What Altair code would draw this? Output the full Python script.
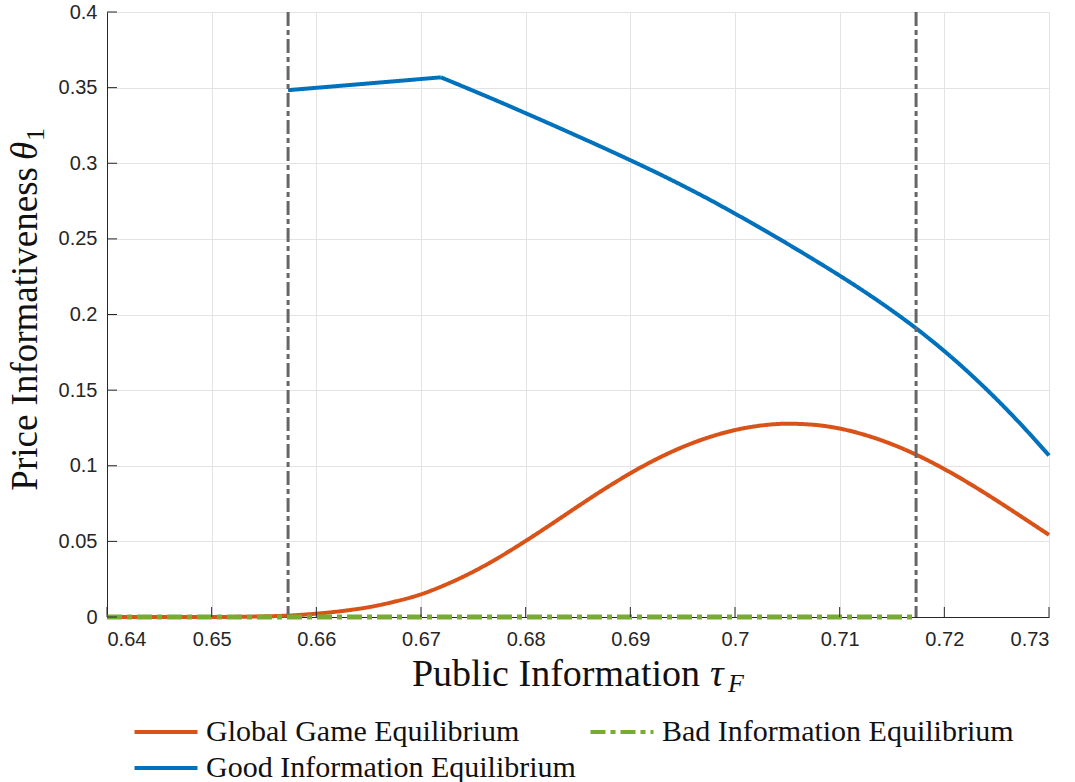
import altair as alt
import pandas as pd

# ---------------- data ----------------
# order chosen so that Vega's column-major legend grid gives
# row 1: Global | Bad, row 2: Good
series_names = ["Global Game Equilibrium", "Good Information Equilibrium", "Bad Information Equilibrium"]
series_colors = ["#D95319", "#0072BD", "#77AC30"]
series_dashes = [[1, 0], [1, 0], [15, 5, 5, 5]]

tau_global = [0.64, 0.645, 0.65, 0.655, 0.6575, 0.66, 0.6625, 0.665, 0.6675, 0.67, 0.6725, 0.675, 0.6775,
              0.68, 0.6825, 0.685, 0.6875, 0.69, 0.6925, 0.695, 0.6975, 0.70, 0.7025,
              0.705, 0.7075, 0.71, 0.7125, 0.715, 0.7175, 0.72, 0.7225, 0.725, 0.7275, 0.73]
theta_global = [0.0, 0.0, 0.0, 0.0004, 0.0010, 0.0022, 0.0040, 0.0065, 0.0102, 0.0150, 0.0218, 0.0300, 0.0396,
                0.0503, 0.0616, 0.0732, 0.0845, 0.0950, 0.1044, 0.1124, 0.1188, 0.1236, 0.1266,
                0.1278, 0.1271, 0.1246, 0.1202, 0.1142, 0.1067, 0.0978, 0.0878, 0.0770, 0.0657, 0.0543]

# good-information branch: a short straight piece up to the kink, then a smooth decline
tau_good_a = [0.6573, 0.6719]
theta_good_a = [0.3483, 0.3568]
tau_good_b = [0.6719, 0.6725, 0.675, 0.6775, 0.68, 0.6825, 0.685, 0.6875, 0.69, 0.6925,
              0.695, 0.6975, 0.70, 0.7025, 0.705, 0.7075, 0.71, 0.7125, 0.715, 0.7175, 0.72,
              0.7225, 0.725, 0.7275, 0.73]
theta_good_b = [0.3568, 0.3551, 0.3479, 0.3406, 0.3331, 0.3255, 0.3178, 0.3100, 0.3020, 0.2938,
                0.2852, 0.2762, 0.2667, 0.2569, 0.2468, 0.2364, 0.2257, 0.2145, 0.2026, 0.1898, 0.1758,
                0.1605, 0.1439, 0.1260, 0.1068]

tau_bad = [0.64, 0.7173]
theta_bad = [0.0, 0.0]

bounds = [0.6573, 0.7173]

x_ticks = [0.64, 0.65, 0.66, 0.67, 0.68, 0.69, 0.70, 0.71, 0.72, 0.73]
y_ticks = [0.0, 0.05, 0.10, 0.15, 0.20, 0.25, 0.30, 0.35, 0.40]

# ---------------- tables ----------------
GG, GOOD, BAD = series_names
df = pd.concat([
    pd.DataFrame({"tau": tau_global, "theta": theta_global, "series": GG, "seg": "g"}),
    pd.DataFrame({"tau": tau_good_a, "theta": theta_good_a, "series": GOOD, "seg": "a"}),
    pd.DataFrame({"tau": tau_good_b, "theta": theta_good_b, "series": GOOD, "seg": "b"}),
    pd.DataFrame({"tau": tau_bad, "theta": theta_bad, "series": BAD, "seg": "z"}),
], ignore_index=True)

W, H = 942, 605
AX = "#262626"
SERIF = "Liberation Serif"
SANS = "Liberation Sans"

x_axis = alt.Axis(values=x_ticks, format=".2~f", title=None, ticks=False, grid=True,
                  gridColor="#e3e3e3", gridWidth=1, domainColor=AX, domainWidth=1,
                  labelFont=SANS, labelFontSize=20, labelColor=AX, labelPadding=12)
y_axis = alt.Axis(values=y_ticks, format=".2~f", title=None, ticks=False, grid=True,
                  gridColor="#e3e3e3", gridWidth=1, domainColor=AX, domainWidth=1,
                  labelFont=SANS, labelFontSize=20, labelColor=AX, labelPadding=10)

X = alt.X("tau:Q", scale=alt.Scale(domain=[0.64, 0.73], nice=False, zero=False), axis=x_axis)
Y = alt.Y("theta:Q", scale=alt.Scale(domain=[0, 0.4], nice=False, zero=False), axis=y_axis)

legend = alt.Legend(title=None, orient="none", legendX=44, legendY=705, columns=2,
                    symbolType="M-3,0H3", symbolSize=441, symbolStrokeWidth=4,
                    labelFont=SERIF, labelFontSize=30, labelColor="#111111", labelLimit=0,
                    labelOffset=25, rowPadding=6, columnPadding=6, padding=0)

color = alt.Color("series:N", scale=alt.Scale(domain=series_names, range=series_colors), legend=legend)
dash = alt.StrokeDash("series:N", scale=alt.Scale(domain=series_names, range=series_dashes),
                      legend=legend)

base = alt.Chart(df)


def line_layer(name, width, interp):
    return base.transform_filter(alt.datum.series == name).mark_line(
        strokeWidth=width, interpolate=interp).encode(
        x=X, y=Y, color=color, strokeDash=dash, detail="seg:N", order="tau:Q")


orange = line_layer(GG, 4, "monotone")
blue = line_layer(GOOD, 4, "monotone")
green = line_layer(BAD, 5, "linear")

bound_lines = alt.Chart(pd.DataFrame({"tau": bounds})).mark_rule(
    color="#666666", strokeWidth=3, strokeDash=[14, 4, 5, 4]).encode(
    x=X, y=alt.value(0), y2=alt.value(H))

xtick_marks = alt.Chart(pd.DataFrame({"tau": x_ticks})).mark_rule(color=AX, strokeWidth=1).encode(
    x=X, y=alt.value(H), y2=alt.value(H - 10))
ytick_marks = alt.Chart(pd.DataFrame({"theta": y_ticks})).mark_rule(color=AX, strokeWidth=1).encode(
    y=Y, x=alt.value(0), x2=alt.value(10))

one = pd.DataFrame({"k": [0]})


def label(text, x, y, size, angle=0, align="left", italic=False):
    return alt.Chart(one).mark_text(text=text, font=SERIF, fontSize=size, color="#111111",
                                    align=align, baseline="alphabetic", angle=angle,
                                    fontStyle="italic" if italic else "normal").encode(
        x=alt.value(x), y=alt.value(y))


# x title: Public Information tau_F
xt1 = label("Public Information", 593, 674, 38, align="right")
xt2 = label("τ", 603, 674, 38, italic=True)
xt3 = label("F", 621, 680, 26, italic=True)

# y title: Price Informativeness theta_1 (rotated)
yt1 = label("Price Informativeness", -70, 155, 37, angle=270, align="right")
yt2 = label("θ", -70, 148, 37, angle=270, italic=True)
yt3 = label("1", -63, 129, 26, angle=270)

chart = alt.layer(
    orange, blue, bound_lines, green, xtick_marks, ytick_marks,
    xt1, xt2, xt3, yt1, yt2, yt3
).properties(
    width=W, height=H,
    autosize=alt.AutoSizeParams(type="none"),
    padding={"left": 107, "top": 12, "right": 26, "bottom": 165},
    background="white"
).configure_view(stroke=None)

chart.save("out.html", embed_options={"renderer": "svg", "actions": False})
